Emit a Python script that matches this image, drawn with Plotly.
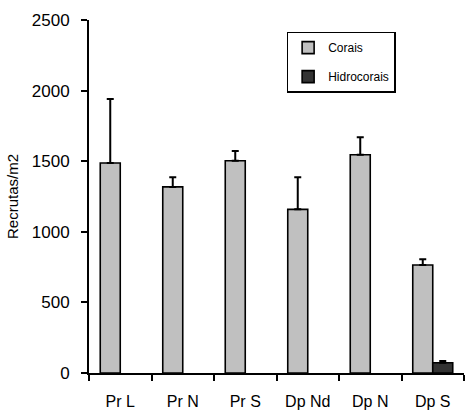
import plotly.graph_objects as go

sites = ["Pr L", "Pr N", "Pr S", "Dp Nd", "Dp N", "Dp S"]
corais = [1487, 1318, 1503, 1159, 1546, 765]
corais_err = [453, 68, 70, 227, 123, 40]
hidrocorais = [0, 0, 0, 0, 0, 73]
hidrocorais_err = [0, 0, 0, 0, 0, 12]

FONT = "Liberation Sans, Arial, sans-serif"

# zero values have no visible bar in the original chart
hid_plot = [v if v > 0 else None for v in hidrocorais]
hid_err_plot = [e if v > 0 else None for v, e in zip(hidrocorais, hidrocorais_err)]

fig = go.Figure()
fig.add_trace(go.Bar(
    x=sites, y=corais, name="Corais", legendgroup="a",
    marker=dict(color="#c0c0c0", line=dict(color="black", width=1.6)),
    error_y=dict(type="data", symmetric=False, array=corais_err,
                 arrayminus=[0] * len(sites), color="black", thickness=2, width=3.5),
))
fig.add_trace(go.Bar(
    x=sites, y=hid_plot, name="Hidrocorais", legendgroup="b",
    marker=dict(color="#333333", line=dict(color="black", width=1.6)),
    error_y=dict(type="data", symmetric=False, array=hid_err_plot,
                 arrayminus=[None if e is None else 0 for e in hid_err_plot],
                 color="black", thickness=2, width=3.5),
))

fig.update_layout(
    width=466, height=412,
    margin=dict(l=89, r=2, t=20, b=39),
    paper_bgcolor="white", plot_bgcolor="white",
    barmode="group", bargap=0.36, bargroupgap=0,
    font=dict(family=FONT, color="black"),
    legend=dict(
        x=0.527, y=0.967, xanchor="left", yanchor="top",
        bordercolor="black", borderwidth=1.5, bgcolor="white",
        font=dict(size=12, family=FONT), tracegroupgap=10,
        traceorder="grouped",
    ),
    showlegend=True,
)
fig.update_yaxes(
    range=[0, 2500], dtick=500, showgrid=False, zeroline=False,
    showline=True, linecolor="black", linewidth=2,
    ticks="outside", ticklen=6, tickwidth=1.5, tickcolor="black",
    tickfont=dict(size=17, family=FONT), ticklabelstandoff=8,
    title=dict(text="Recrutas/m2", font=dict(size=15, family=FONT), standoff=10),
)
fig.update_xaxes(
    showgrid=False, showline=True, linecolor="black", linewidth=2,
    ticks="outside", tickson="boundaries", ticklen=6, tickwidth=1.5,
    tickcolor="black", tickfont=dict(size=16, family=FONT),
    ticklabelstandoff=13,
)

fig.write_html("out.html")
